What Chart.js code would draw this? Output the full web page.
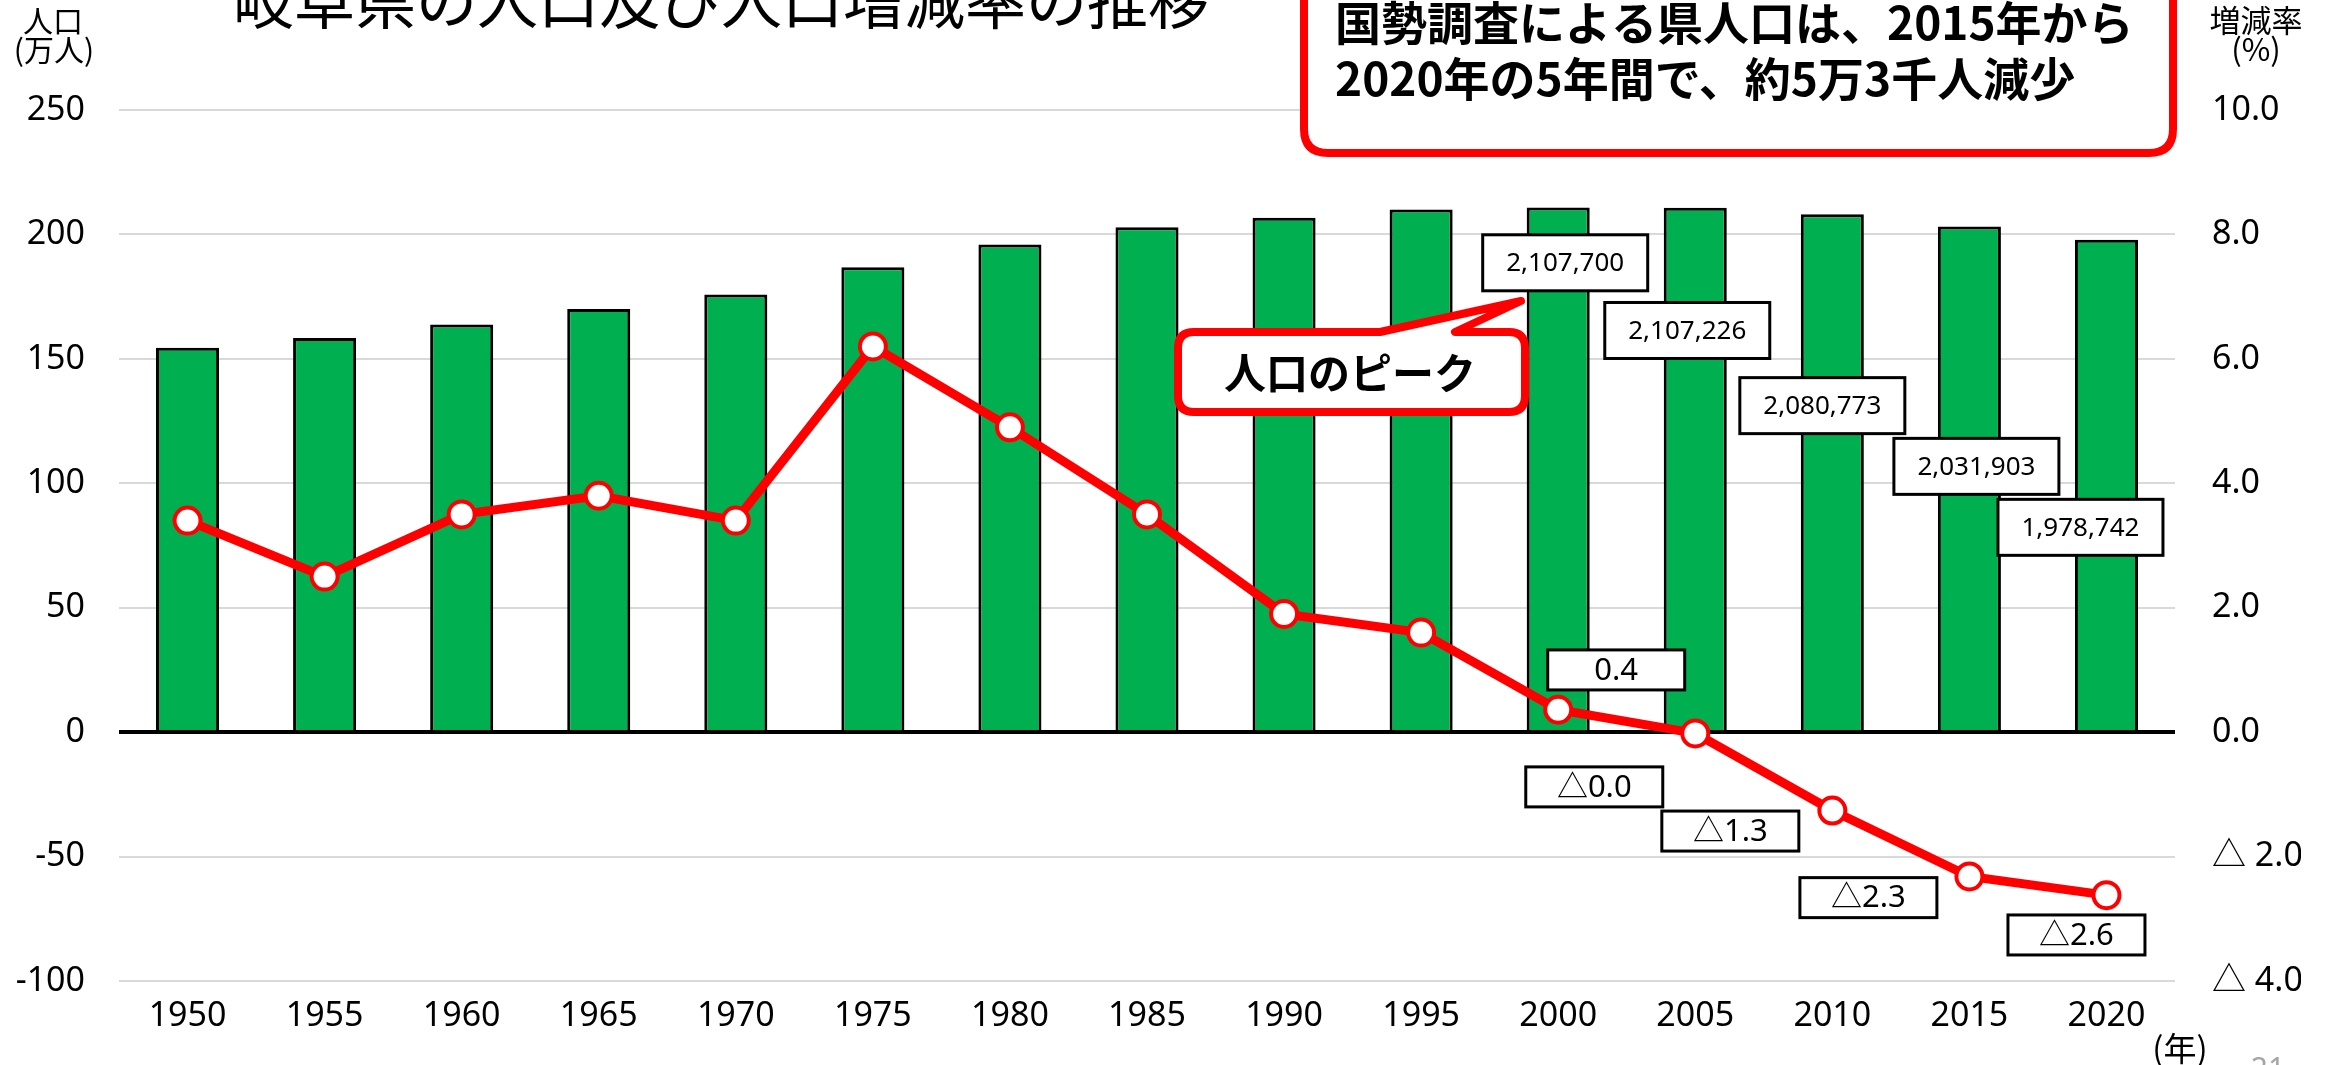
<!DOCTYPE html>
<html lang="ja">
<head>
<meta charset="utf-8">
<title>岐阜県の人口及び人口増減率の推移</title>
<script src="https://cdn.jsdelivr.net/npm/chart.js@4.4.1/dist/chart.umd.min.js"></script>
<style>
    html, body { margin: 0; padding: 0; background: #fff; }
    #wrap { width: 2331px; height: 1065px; position: relative; overflow: hidden; }
</style>
</head>
<body>
<div id="wrap"><canvas id="chart" width="2331" height="1065"></canvas></div>
<script>
// Census years
const years = ['1950', '1955', '1960', '1965', '1970', '1975', '1980', '1985',
               '1990', '1995', '2000', '2005', '2010', '2015', '2020'];

// Population (万人)
const population = [154.5, 158.4, 163.8, 170.0, 175.9, 186.8, 196.0, 202.9,
                    206.7, 210.0, 210.8, 210.7, 208.1, 203.2, 197.9];

// Growth rate vs previous census (%)
const growthRate = [3.4, 2.5, 3.5, 3.8, 3.4, 6.2, 4.9, 3.5,
                    1.9, 1.6, 0.36, -0.02, -1.26, -2.32, -2.62];

// Labelled population counts (persons) for the last five censuses
const labelledYears = ['2000', '2005', '2010', '2015', '2020'];
const labelledPopulation = [2107700, 2107226, 2080773, 2031903, 1978742];

// Axis ranges
const popAxis = { min: -100, max: 250, step: 50 };
const rateAxis = { min: -4, max: 10, step: 2 };

const GREEN = '#00B050';
const RED = '#FF0000';
const GRID = '#D9D9D9';
const NUM_FONT = '"Noto Sans", "Noto Sans CJK JP", sans-serif';
const JP_FONT = '"Noto Sans CJK JP", sans-serif';

// Where the annotation boxes sit (offset from category centre, y in axis units)
const popLabelLayout = [
    { dx: 7, y: 188.6 }, { dx: -8, y: 161.4 }, { dx: -10, y: 131.2 },
    { dx: 7, y: 106.8 }, { dx: -26, y: 82.3 }
];
const rateLabelLayout = [
    { dx: 58, y: 1.0 }, { dx: -101, y: -0.88 }, { dx: -102, y: -1.59 },
    { dx: -101, y: -2.66 }, { dx: -30, y: -3.26 }
];

function formatRate(v) {
    return v < 0 ? '△' + Math.abs(v).toFixed(1) : v.toFixed(1);
}

function roundedRectPath(ctx, x0, y0, x1, y1, r) {
    ctx.beginPath();
    ctx.moveTo(x0 + r, y0);
    ctx.lineTo(x1 - r, y0);
    ctx.quadraticCurveTo(x1, y0, x1, y0 + r);
    ctx.lineTo(x1, y1 - r);
    ctx.quadraticCurveTo(x1, y1, x1 - r, y1);
    ctx.lineTo(x0 + r, y1);
    ctx.quadraticCurveTo(x0, y1, x0, y1 - r);
    ctx.lineTo(x0, y0 + r);
    ctx.quadraticCurveTo(x0, y0, x0 + r, y0);
    ctx.closePath();
}

function labelBox(ctx, cx, cy, w, h, text, font) {
    ctx.save();
    ctx.fillStyle = '#fff';
    ctx.strokeStyle = '#000';
    ctx.lineWidth = 3;
    ctx.fillRect(cx - w / 2, cy - h / 2, w, h);
    ctx.strokeRect(cx - w / 2, cy - h / 2, w, h);
    ctx.fillStyle = '#000';
    ctx.font = font;
    ctx.textAlign = 'center';
    ctx.textBaseline = 'middle';
    ctx.fillText(text, cx, cy + 1);
    ctx.restore();
}

function centerText(ctx, text, x, y, font, color) {
    ctx.save();
    ctx.font = font;
    ctx.fillStyle = color || '#000';
    ctx.textAlign = 'center';
    ctx.textBaseline = 'middle';
    ctx.fillText(text, x, y);
    ctx.restore();
}

/**
 * Titles, callouts and value boxes
 */
const annotations = {
    id: 'annotations',
    afterDraw(chart) {
        const { ctx, scales } = chart;
        const x = scales.x, y = scales.y, y2 = scales.y2;

        // Title (top partly cut off)
        ctx.save();
        ctx.font = '61px ' + JP_FONT;
        ctx.fillStyle = '#000';
        ctx.textAlign = 'center';
        ctx.textBaseline = 'alphabetic';
        ctx.fillText('岐阜県の人口及び人口増減率の推移', 721, 24);
        ctx.restore();

        // Axis titles
        centerText(ctx, '人口', 53, 21, '30px ' + JP_FONT);
        centerText(ctx, '(万人)', 54, 50, '30px ' + JP_FONT);
        centerText(ctx, '増減率', 2256, 20, '31px ' + JP_FONT);
        centerText(ctx, '(%)', 2256, 49, '31px ' + JP_FONT);
        centerText(ctx, '(年)', 2180, 1048, '33px ' + JP_FONT);
        centerText(ctx, '21', 2268, 1070, '30px ' + NUM_FONT, '#A6A6A6');

        // Population boxes
        labelledYears.forEach((yr, i) => {
            const idx = years.indexOf(yr);
            const lay = popLabelLayout[i];
            const cx = x.getPixelForValue(idx) + lay.dx;
            const cy = y.getPixelForValue(lay.y);
            labelBox(ctx, cx, cy, 165, 56, labelledPopulation[i].toLocaleString('en-US'), '26px ' + NUM_FONT);
        });

        // Growth rate boxes
        labelledYears.forEach((yr, i) => {
            const idx = years.indexOf(yr);
            const lay = rateLabelLayout[i];
            const cx = x.getPixelForValue(idx) + lay.dx;
            const cy = y2.getPixelForValue(lay.y);
            labelBox(ctx, cx, cy, 137, 40, formatRate(growthRate[idx]), '31px ' + NUM_FONT);
        });

        // "人口のピーク" speech bubble
        ctx.save();
        const bx0 = 1178, by0 = 332, bx1 = 1525, by1 = 412, r = 16;
        ctx.beginPath();
        ctx.moveTo(bx0 + r, by0);
        ctx.lineTo(1380, by0);
        ctx.lineTo(1521, 301);
        ctx.lineTo(1455, by0);
        ctx.lineTo(bx1 - r, by0);
        ctx.quadraticCurveTo(bx1, by0, bx1, by0 + r);
        ctx.lineTo(bx1, by1 - r);
        ctx.quadraticCurveTo(bx1, by1, bx1 - r, by1);
        ctx.lineTo(bx0 + r, by1);
        ctx.quadraticCurveTo(bx0, by1, bx0, by1 - r);
        ctx.lineTo(bx0, by0 + r);
        ctx.quadraticCurveTo(bx0, by0, bx0 + r, by0);
        ctx.closePath();
        ctx.fillStyle = '#fff';
        ctx.fill();
        ctx.lineWidth = 8;
        ctx.strokeStyle = RED;
        ctx.lineJoin = 'round';
        ctx.stroke();
        ctx.restore();
        centerText(ctx, '人口のピーク', 1350, 373, 'bold 42px ' + JP_FONT);

        // Top summary callout
        ctx.save();
        roundedRectPath(ctx, 1304, -40, 2173, 153, 24);
        ctx.fillStyle = '#fff';
        ctx.fill();
        ctx.lineWidth = 8;
        ctx.strokeStyle = RED;
        ctx.stroke();
        ctx.font = 'bold 46px ' + JP_FONT;
        ctx.fillStyle = '#000';
        ctx.textAlign = 'left';
        ctx.textBaseline = 'middle';
        ctx.fillText('国勢調査による県人口は、2015年から', 1335, 23);
        ctx.fillText('2020年の5年間で、約5万3千人減少', 1335, 79);
        ctx.restore();
    }
};

const chart = new Chart(document.getElementById('chart').getContext('2d'), {
    data: {
        labels: years,
        datasets: [{
            type: 'line',
            label: '人口増減率',
            data: growthRate,
            yAxisID: 'y2',
            borderColor: RED,
            borderWidth: 9,
            pointRadius: 13,
            pointBorderWidth: 4,
            pointBackgroundColor: '#fff',
            pointBorderColor: RED,
            tension: 0,
            order: 0
        }, {
            type: 'bar',
            label: '人口',
            data: population,
            yAxisID: 'y',
            backgroundColor: GREEN,
            borderColor: '#000',
            borderWidth: 3,
            categoryPercentage: 1,
            barPercentage: 0.46,
            order: 1
        }]
    },
    options: {
        responsive: false,
        devicePixelRatio: 1,
        animation: false,
        layout: { padding: { top: 110, bottom: 24, left: 0, right: 30 } },
        plugins: {
            legend: { display: false },
            tooltip: { enabled: false },
            title: { display: false }
        },
        scales: {
            x: {
                grid: { display: false, drawTicks: false },
                border: { display: false },
                ticks: {
                    autoSkip: false,
                    maxRotation: 0,
                    padding: 15,
                    color: '#000',
                    font: { family: NUM_FONT, size: 34 }
                },
                afterFit: (scale) => { scale.height = 60; }
            },
            y: {
                position: 'left',
                min: popAxis.min,
                max: popAxis.max,
                border: { display: false },
                grid: {
                    drawTicks: false,
                    color: (c) => c.tick.value === 0 ? '#000' : GRID,
                    lineWidth: (c) => c.tick.value === 0 ? 4 : 2
                },
                ticks: {
                    stepSize: popAxis.step,
                    padding: 34,
                    color: '#000',
                    font: { family: NUM_FONT, size: 34 }
                },
                afterFit: (scale) => { scale.width = 119; }
            },
            y2: {
                position: 'right',
                min: rateAxis.min,
                max: rateAxis.max,
                border: { display: false },
                grid: { display: false, drawTicks: false },
                ticks: {
                    stepSize: rateAxis.step,
                    padding: 37,
                    color: '#000',
                    font: { family: NUM_FONT, size: 34 },
                    callback: (v) => v < 0 ? '△ ' + Math.abs(v).toFixed(1) : v.toFixed(1)
                },
                afterFit: (scale) => { scale.width = 126; }
            }
        }
    },
    plugins: [annotations]
});
</script>
</body>
</html>
